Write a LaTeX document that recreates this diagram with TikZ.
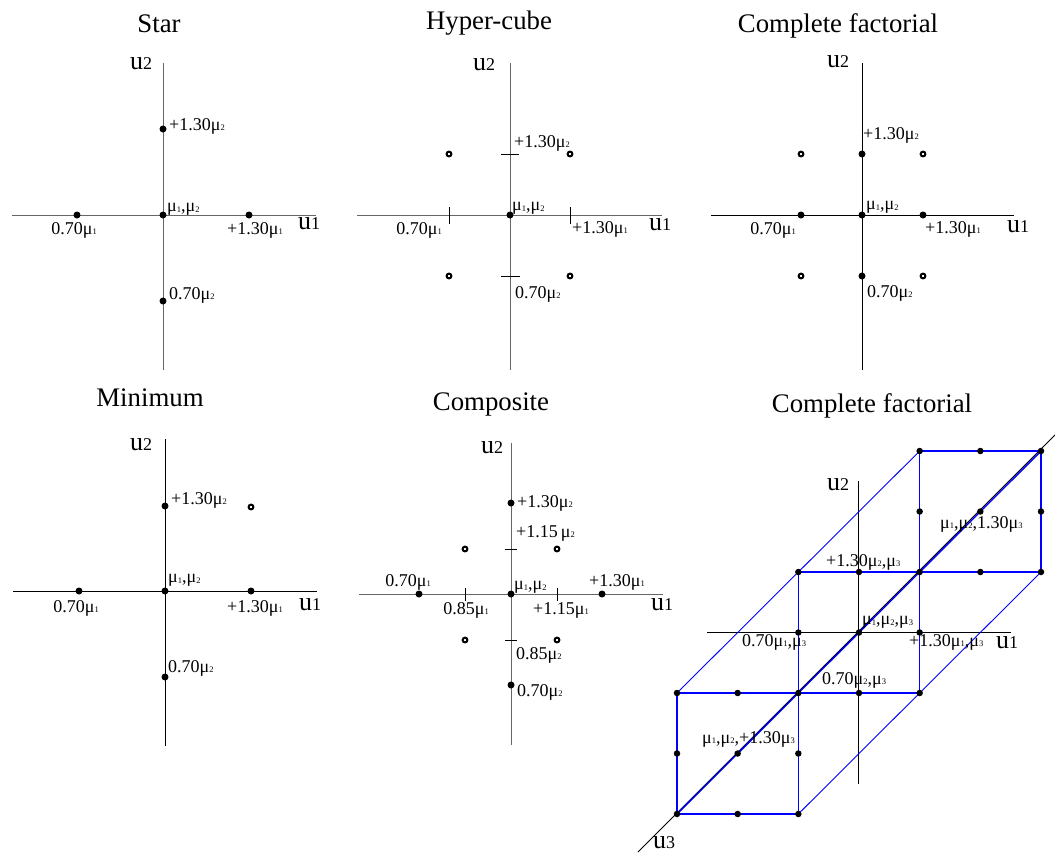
\documentclass[tikz,border=0pt]{standalone}
\usepackage{fontspec}
\setmainfont{Liberation Serif}
\newcommand\mus[1]{μ\kern0.1pt\raisebox{-0.8pt}{\fontsize{8.5}{8.5}\selectfont #1}}
\newcommand\ulab[1]{{\fontsize{26}{26}\selectfont u}#1}
\tikzset{
  ttl/.style={font=\fontsize{26.8}{30}\selectfont, anchor=base, inner sep=0pt},
  lab/.style={font=\fontsize{18}{20}\selectfont, inner sep=0pt},
  axg/.style={draw=black!60, line width=1pt},
  axk/.style={draw=black, line width=0.9pt},
  tick/.style={draw=black, line width=0.9pt},
  dotf/.style={circle, fill=black, draw=none, minimum size=7pt, inner sep=0pt},
  doto/.style={circle, fill=white, draw=black, line width=2pt, minimum size=4.8pt, inner sep=0pt},
  edge/.style={draw=blue, line width=1.2pt},
  mainedge/.style={draw=blue!92!black, line width=1.5pt}
}
\begin{document}
\begin{tikzpicture}[x=1pt,y=-1pt]
\useasboundingbox (0,0) rectangle (1055,857);

% ---------------- Panel 1: Star ----------------
\node[ttl] (t1) at (159,32) {Star};
\coordinate (a1l) at (12,215); \coordinate (a1r) at (316,215);
\coordinate (a1t) at (163,63); \coordinate (a1b) at (163,370);
\draw[axg] (a1l) -- (a1r); \draw[axg] (a1t) -- (a1b);
\node[dotf] (s0) at (163,215) {};
\node[dotf] (s1m) at (77,215) {};
\node[dotf] (s1p) at (249,215) {};
\node[dotf] (s2p) at (163,129) {};
\node[dotf] (s2m) at (163,301) {};
\node[lab] (s-u2) at (141,64) {\ulab{2}};
\node[lab] (s-u1) at (309,224) {\ulab{1}};
\node[lab,anchor=west] (s-l1) at (169,126) {+1.30\mus{2}};
\node[lab,anchor=west] (s-l2) at (167,209) {\mus{1},\mus{2}};
\node[lab] (s-l3) at (74,230) {0.70\mus{1}};
\node[lab] (s-l4) at (255,230) {+1.30\mus{1}};
\node[lab,anchor=west] (s-l5) at (169,295) {0.70\mus{2}};

% ---------------- Panel 2: Hyper-cube ----------------
\node[ttl] (t2) at (489,29) {Hyper-cube};
\coordinate (a2l) at (357,215); \coordinate (a2r) at (662,215);
\coordinate (a2t) at (510,63); \coordinate (a2b) at (510,370);
\draw[axg] (a2l) -- (a2r); \draw[axg] (a2t) -- (a2b);
\coordinate (k2a) at (449,207); \coordinate (k2b) at (449,224);
\coordinate (k2c) at (570,207); \coordinate (k2d) at (570,224);
\coordinate (k2e) at (501,154); \coordinate (k2f) at (519,154);
\coordinate (k2g) at (501,276); \coordinate (k2h) at (520,276);
\draw[tick] (k2a) -- (k2b); \draw[tick] (k2c) -- (k2d);
\draw[tick] (k2e) -- (k2f); \draw[tick] (k2g) -- (k2h);
\node[dotf] (h0) at (510,215) {};
\node[doto] (h1) at (449,154) {};
\node[doto] (h2) at (570,154) {};
\node[doto] (h3) at (449,276) {};
\node[doto] (h4) at (570,276) {};
\node[lab] (h-u2) at (484,65) {\ulab{2}};
\node[lab] (h-u1) at (660,225) {\ulab{1}};
\node[lab,anchor=west] (h-l1) at (514,143) {+1.30\mus{2}};
\node[lab,anchor=west] (h-l2) at (512,208) {\mus{1},\mus{2}};
\node[lab] (h-l3) at (419,230) {0.70\mus{1}};
\node[lab,anchor=west] (h-l4) at (572,229) {+1.30\mus{1}};
\node[lab,anchor=west] (h-l5) at (515,294) {0.70\mus{2}};

% ---------------- Panel 3: Complete factorial (2D) ----------------
\node[ttl] (t3) at (838,32) {Complete factorial};
\coordinate (a3l) at (711,215); \coordinate (a3r) at (1014,215);
\coordinate (a3t) at (862,63); \coordinate (a3b) at (862,370);
\draw[axk] (a3l) -- (a3r); \draw[axk] (a3t) -- (a3b);
\node[dotf] (f0) at (862,215) {};
\node[dotf] (f1) at (801,215) {};
\node[dotf] (f2) at (923,215) {};
\node[dotf] (f3) at (862,154) {};
\node[dotf] (f4) at (862,276) {};
\node[doto] (f5) at (801,154) {};
\node[doto] (f6) at (923,154) {};
\node[doto] (f7) at (801,276) {};
\node[doto] (f8) at (923,276) {};
\node[lab] (f-u2) at (838,62) {\ulab{2}};
\node[lab] (f-u1) at (1018,227) {\ulab{1}};
\node[lab,anchor=west] (f-l1) at (863,135) {+1.30\mus{2}};
\node[lab,anchor=west] (f-l2) at (866,207) {\mus{1},\mus{2}};
\node[lab] (f-l3) at (773,230) {0.70\mus{1}};
\node[lab,anchor=west] (f-l4) at (925,229) {+1.30\mus{1}};
\node[lab,anchor=west] (f-l5) at (867,293) {0.70\mus{2}};

% ---------------- Panel 4: Minimum ----------------
\node[ttl] (t4) at (150,406) {Minimum};
\coordinate (a4l) at (13,591); \coordinate (a4r) at (317,591);
\coordinate (a4t) at (165,439); \coordinate (a4b) at (165,746);
\draw[axk] (a4l) -- (a4r); \draw[axk] (a4t) -- (a4b);
\node[dotf] (m0) at (165,591) {};
\node[dotf] (m1) at (79,591) {};
\node[dotf] (m2) at (251,591) {};
\node[dotf] (m3) at (165,506) {};
\node[dotf] (m4) at (165,677) {};
\node[doto] (m5) at (251,507) {};
\node[lab] (m-u2) at (141,445) {\ulab{2}};
\node[lab] (m-u1) at (310,605) {\ulab{1}};
\node[lab,anchor=west] (m-l1) at (171,500) {+1.30\mus{2}};
\node[lab,anchor=west] (m-l2) at (168,580) {\mus{1},\mus{2}};
\node[lab] (m-l3) at (76,608) {0.70\mus{1}};
\node[lab] (m-l4) at (255,608) {+1.30\mus{1}};
\node[lab,anchor=west] (m-l5) at (168,668) {0.70\mus{2}};

% ---------------- Panel 5: Composite ----------------
\node[ttl] (t5) at (491,410) {Composite};
\coordinate (a5l) at (359,594); \coordinate (a5r) at (663,594);
\coordinate (a5t) at (511,443); \coordinate (a5b) at (511,745);
\draw[axg] (a5l) -- (a5r); \draw[axg] (a5t) -- (a5b);
\coordinate (k5a) at (465,588); \coordinate (k5b) at (465,601);
\coordinate (k5c) at (557,588); \coordinate (k5d) at (557,601);
\coordinate (k5e) at (505,549); \coordinate (k5f) at (517,549);
\coordinate (k5g) at (505,640); \coordinate (k5h) at (517,640);
\draw[tick] (k5a) -- (k5b); \draw[tick] (k5c) -- (k5d);
\draw[tick] (k5e) -- (k5f); \draw[tick] (k5g) -- (k5h);
\node[dotf] (c0) at (511,594) {};
\node[dotf] (c1) at (419,594) {};
\node[dotf] (c2) at (602,594) {};
\node[dotf] (c3) at (511,503) {};
\node[dotf] (c4) at (511,685) {};
\node[doto] (c5) at (465,549) {};
\node[doto] (c6) at (557,549) {};
\node[doto] (c7) at (465,640) {};
\node[doto] (c8) at (557,640) {};
\node[lab] (c-u2) at (492,448) {\ulab{2}};
\node[lab] (c-u1) at (662,605) {\ulab{1}};
\node[lab,anchor=west] (c-l1) at (517,503) {+1.30\mus{2}};
\node[lab,anchor=west] (c-l2) at (516,533) {+1.15\,\mus{2}};
\node[lab] (c-l3) at (408,582) {0.70\mus{1}};
\node[lab,anchor=west] (c-l4) at (514,587) {\mus{1},\mus{2}};
\node[lab] (c-l5) at (617,582) {+1.30\mus{1}};
\node[lab] (c-l6) at (466,610) {0.85\mus{1}};
\node[lab] (c-l7) at (561,610) {+1.15\mus{1}};
\node[lab,anchor=west] (c-l8) at (516,655) {0.85\mus{2}};
\node[lab,anchor=west] (c-l9) at (517,692) {0.70\mus{2}};

% ---------------- Panel 6: Complete factorial (3D) ----------------
\node[ttl] (t6) at (872,412) {Complete factorial};
\coordinate (a6l) at (707,632); \coordinate (a6r) at (1011,632);
\coordinate (a6t) at (858,481); \coordinate (a6b) at (858,784);
\coordinate (a6s) at (638,852); \coordinate (a6e) at (1062,428);
\draw[axk] (a6l) -- (a6r); \draw[axk] (a6t) -- (a6b);
\draw[axk] (a6s) -- (a6e);
\foreach \i/\j in {4/0,5/0,6/0,4/1,5/1,6/1,4/2,5/2,6/2,2/2,3/2,2/3,3/3,4/3,2/4,3/4,4/4,0/4,1/4,0/5,1/5,2/5,0/6,1/6,2/6}
  \coordinate (p\i\j) at ({677+60.667*\i},{451+60.5*\j});
% front, middle and back squares
\draw[edge] (p04) -- (p24) -- (p26) -- (p06) -- cycle;
\draw[edge] (p22) -- (p42) -- (p44) -- (p24) -- cycle;
\draw[edge] (p40) -- (p60) -- (p62) -- (p42) -- cycle;
% depth edges
\draw[edge, line width=0.9pt] (p04) -- (p40);
\draw[edge, line width=0.9pt] (p26) -- (p62);
\draw[mainedge] (p06) -- (p60);
\foreach \i/\j in {4/0,5/0,6/0,4/1,5/1,6/1,4/2,5/2,6/2,2/2,3/2,2/3,3/3,4/3,2/4,3/4,4/4,0/4,1/4,0/5,1/5,2/5,0/6,1/6,2/6}
  \node[dotf, minimum size=6.5pt] (q\i\j) at (p\i\j) {};
\node[lab] (q-u2) at (838,485) {\ulab{2}};
\node[lab] (q-u1) at (1007,643) {\ulab{1}};
\node[lab] (q-u3) at (664,843) {\ulab{3}};
\node[lab,anchor=west] (q-l1) at (940,524) {\mus{1},\mus{2},1.30\mus{3}};
\node[lab,anchor=west] (q-l2) at (826,562) {+1.30\mus{2},\mus{3}};
\node[lab,anchor=west] (q-l3) at (862,622) {\mus{1},\mus{2},\mus{3}};
\node[lab,anchor=west] (q-l4) at (742,642) {0.70\mus{1},\mus{3}};
\node[lab,anchor=west] (q-l5) at (909,642) {+1.30\mus{1},\mus{3}};
\node[lab,anchor=west] (q-l6) at (822,680) {0.70\mus{2},\mus{3}};
\node[lab,anchor=west] (q-l7) at (702,739) {\mus{1},\mus{2},+1.30\mus{3}};
\end{tikzpicture}
\end{document}
